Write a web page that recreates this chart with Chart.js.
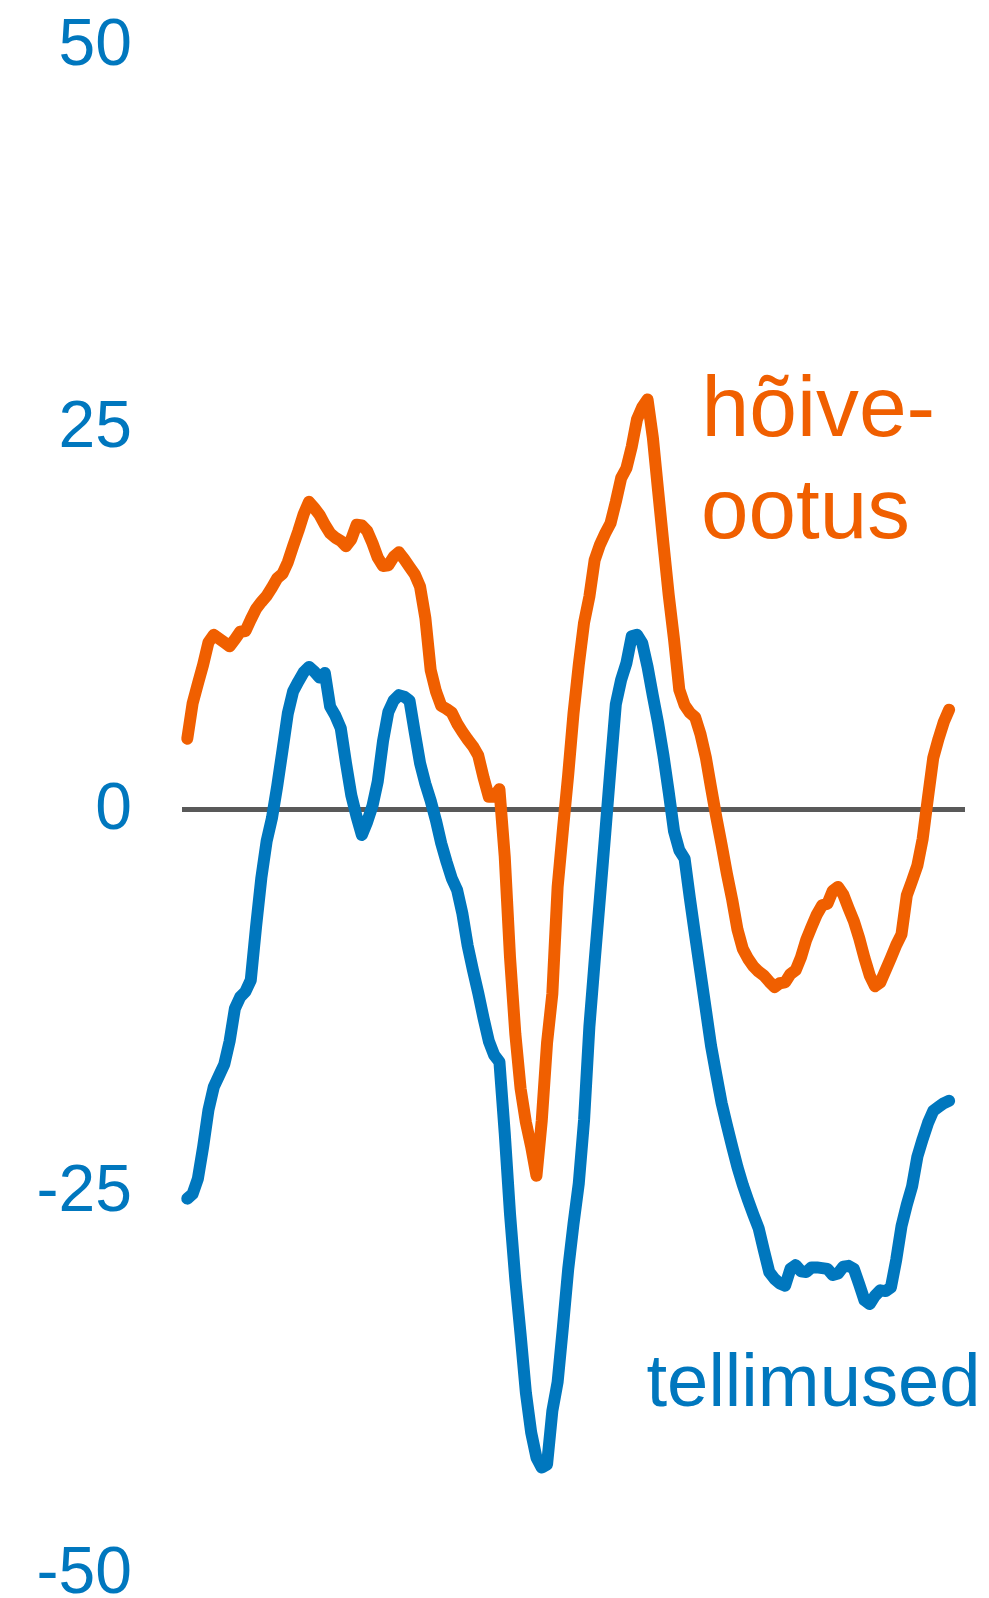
<!DOCTYPE html>
<html>
<head>
<meta charset="utf-8">
<script src="https://cdn.jsdelivr.net/npm/chart.js@4/dist/chart.umd.min.js"></script>
<style>
html,body{margin:0;padding:0;background:#ffffff;}
canvas{display:block;}
</style>
</head>
<body>
<canvas id="c" width="989" height="1598"></canvas>
<script>
// ---- data ----
const hoiveOotus = [null,
 4.6, 6.9, 8.2, 9.45, 10.9, 11.4, 11.15, 10.9, 10.65, 11.1,
 11.6, 11.65, 12.4, 13.1, 13.55, 13.95, 14.5, 15.1, 15.4, 16.15,
 17.2, 18.2, 19.3, 20.1, 19.7, 19.25, 18.6, 18.05, 17.75, 17.55,
 17.2, 17.65, 18.6, 18.55, 18.2, 17.4, 16.45, 15.9, 15.95, 16.5,
 16.8, 16.35, 15.85, 15.35, 14.55, 12.5, 9.1, 7.7, 6.75, 6.55,
 6.3, 5.6, 5.05, 4.55, 4.1, 3.5, 2.05, 0.8, 0.8, 1.3,
 -3.1, -9.7, -14.7, -18.3, -20.5, -22.1, -24.0, -20.4, -15.3, -12.1,
 -5.1, -1.35, 2.25, 6.25, 9.45, 12.2, 13.9, 16.3, 17.3, 18.05,
 18.7, 20.1, 21.65, 22.3, 23.7, 25.5, 26.3, 26.8, 24.3, 20.8,
 17.35, 14.0, 11.1, 7.8, 6.8, 6.3, 6.0, 4.9, 3.4, 1.4,
 -0.55, -2.35, -4.25, -5.95, -7.9, -9.15, -9.8, -10.3, -10.65, -10.9,
 -11.3, -11.65, -11.4, -11.35, -10.8, -10.55, -9.7, -8.55, -7.7, -6.9,
 -6.3, -6.2, -5.35, -5.1, -5.6, -6.5, -7.35, -8.45, -9.75, -10.9,
 -11.6, -11.35, -10.55, -9.75, -8.9, -8.2, -5.65, -4.7, -3.7, -1.95,
 0.75, 3.35, 4.6, 5.7, 6.5,
 null, null, null];

const tellimused = [null,
 -25.5, -25.2, -24.2, -22.1, -19.7, -18.2, -17.45, -16.7, -15.2, -13.05,
 -12.3, -11.95, -11.2, -7.7, -4.5, -2.1, -0.6, 1.5, 3.85, 6.25,
 7.7, 8.35, 8.95, 9.3, 9.0, 8.6, 8.9, 6.7, 6.1, 5.3,
 3.0, 0.9, -0.5, -1.7, -0.85, 0.2, 1.8, 4.45, 6.35, 7.1,
 7.45, 7.35, 7.1, 5.0, 3.0, 1.65, 0.55, -0.75, -2.25, -3.45,
 -4.55, -5.3, -6.85, -8.95, -10.55, -12.05, -13.7, -15.2, -16.1, -16.55,
 -21.2, -26.5, -30.8, -34.4, -38.2, -40.8, -42.45, -43.1, -42.9, -39.4,
 -37.5, -33.9, -30.1, -27.15, -24.5, -20.35, -14.25, -9.95, -5.8, -1.6,
 2.7, 6.85, 8.45, 9.55, 11.3, 11.4, 10.85, 9.3, 7.4, 5.6,
 3.5, 1.1, -1.45, -2.7, -3.25, -5.85, -8.3, -10.7, -13.1, -15.5,
 -17.4, -19.25, -20.7, -22.1, -23.45, -24.6, -25.6, -26.55, -27.45, -28.9,
 -30.3, -30.75, -31.05, -31.2, -30.1, -29.85, -30.25, -30.3, -30.0, -30.0,
 -30.05, -30.1, -30.5, -30.4, -29.95, -29.9, -30.1, -31.1, -32.15, -32.4,
 -31.85, -31.5, -31.55, -31.3, -29.5, -27.3, -25.9, -24.7, -22.75, -21.6,
 -20.55, -19.75, -19.5, -19.25, -19.1,
 null, null, null];

const categories = hoiveOotus.map((_, i) => 'p' + i);   // periods (no visible x labels)
const yTicks = [-50, -25, 0, 25, 50];
const orangeLabelLines = ['hõive-', 'ootus'];
const blueLabel = 'tellimused';

// ---- styling ----
const BLUE = '#0077BE';
const ORANGE = '#F05F00';
const FONT = '"Liberation Sans", Arial, Helvetica, sans-serif';

// draw a text so that its ink spans [left, right] on the given baseline
function fitText(ctx, text, left, right, baseline, color) {
  const base = 80;
  ctx.font = base + 'px ' + FONT;
  let m = ctx.measureText(text);
  const ink = m.actualBoundingBoxRight + m.actualBoundingBoxLeft;
  const size = base * (right - left) / ink;
  ctx.font = size.toFixed(2) + 'px ' + FONT;
  m = ctx.measureText(text);
  ctx.fillStyle = color;
  ctx.fillText(text, left + m.actualBoundingBoxLeft, baseline);
}

const labelPlugin = {
  id: 'seriesLabels',
  afterDatasetsDraw(chart) {
    const ctx = chart.ctx;
    ctx.save();
    ctx.textAlign = 'left';
    ctx.textBaseline = 'alphabetic';
    fitText(ctx, orangeLabelLines[0], 706.5, 932, 436, ORANGE);
    fitText(ctx, orangeLabelLines[1], 704, 907.5, 538, ORANGE);
    fitText(ctx, blueLabel, 647.5, 976.5, 1406, BLUE);
    ctx.restore();
  }
};

new Chart(document.getElementById('c'), {
  type: 'line',
  data: {
    labels: categories,
    datasets: [
      {
        label: 'tellimused',
        data: tellimused,
        borderColor: BLUE,
        borderWidth: 12,
        borderJoinStyle: 'round',
        borderCapStyle: 'round',
        pointRadius: 0,
        tension: 0,
        fill: false,
        spanGaps: false
      },
      {
        label: 'hõive-ootus',
        data: hoiveOotus,
        borderColor: ORANGE,
        borderWidth: 12,
        borderJoinStyle: 'round',
        borderCapStyle: 'round',
        pointRadius: 0,
        tension: 0,
        fill: false,
        spanGaps: false
      }
    ]
  },
  options: {
    responsive: false,
    animation: false,
    devicePixelRatio: 1,
    layout: { padding: { left: 0, top: 45, right: 24, bottom: 25 } },
    plugins: {
      legend: { display: false },
      tooltip: { enabled: false },
      title: { display: false }
    },
    scales: {
      x: {
        type: 'category',
        display: false,
        offset: false,
        grid: { display: false }
      },
      y: {
        type: 'linear',
        min: -50,
        max: 50,
        afterBuildTicks: (axis) => { axis.ticks = yTicks.map(v => ({ value: v })); },
        afterFit: (axis) => { axis.width = 182; },
        border: { display: false },
        grid: {
          drawTicks: true,
          tickLength: 50,
          tickColor: 'rgba(0,0,0,0)',
          lineWidth: 5,
          color: (c) => (c.tick && c.tick.value === 0) ? '#595959' : 'rgba(0,0,0,0)'
        },
        ticks: {
          padding: 0,
          labelOffset: 2,
          color: BLUE,
          font: { family: FONT, size: 66, lineHeight: 0.7 },
          callback: (v) => String(v)
        }
      }
    }
  },
  plugins: [labelPlugin]
});
</script>
</body>
</html>
